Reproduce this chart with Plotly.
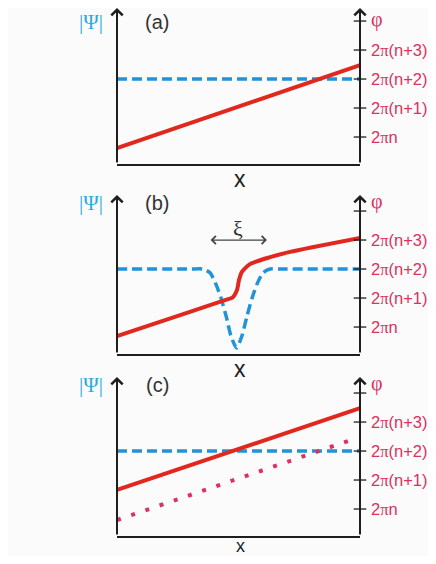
import plotly.graph_objects as go

# x runs from 0 (left axis) to 1 (right axis); phase in units of 2*pi above 2*pi*n
x_line = [0, 1]

# (a) uniform phase gradient
a_phase = [-0.38, 2.48]
a_psi = [2, 2]

# (b) phase slip: amplitude dip and phase jump
b_phase_x = [0, 0.30, 0.444, 0.477, 0.494, 0.502, 0.514, 0.547, 0.630, 0.712, 1.0]
b_phase_y = [-0.31, 0.52, 0.93, 1.03, 1.28, 1.62, 1.90, 2.17, 2.41, 2.59, 3.07]
b_psi_x = [0, 0.30, 0.354, 0.383, 0.407, 0.428, 0.449, 0.469, 0.492,
           0.514, 0.535, 0.556, 0.576, 0.601, 0.630, 0.68, 1.0]
b_psi_y = [2.0, 2.0, 2.0, 1.87, 1.48, 1.0, 0.38, -0.31, -0.72,
           -0.31, 0.38, 1.0, 1.48, 1.87, 2.0, 2.0, 2.0]

# (c) after the slip, with the old phase dotted
c_phase = [0.66, 3.48]
c_old_x = [0, 0.96]
c_old_y = [-0.38, 2.37]
c_psi = [2, 2]

tick_vals = [0, 1, 2, 3]
tick_text = ['2<span style="font-family:Liberation Serif">π</span>n',
             '2<span style="font-family:Liberation Serif">π</span>(n+1)',
             '2<span style="font-family:Liberation Serif">π</span>(n+2)',
             '2<span style="font-family:Liberation Serif">π</span>(n+3)']
tick_marks = [0, 1, 2, 3, 4]
panel_labels = ['(a)', '(b)', '(c)']

RED = '#e0281f'
BLUE = '#2193d8'
PINK = '#d9325e'
CYAN = '#2aa9e0'
AXIS = '#1e1e1e'
YLO = -0.93
UNIT = 29.0  # pixels per 2*pi step

OFF = 8  # page body margin
W, H = 436 - 2 * OFF, 564 - 2 * OFF
# pixel positions (in the final picture) of each panel: (top arrow tip, bottom axis)
panels = [(8, 164), (195, 354), (377, 536)]
# vertical centre of the "x" label under each panel and of the header labels
x_label_y = [179, 369, 546]
x_label_size = [23, 23, 18]
head_y = [22, 203, 385]


def px_x(p):
    return (p - OFF) / W


def px_y(p):
    return max(0, min(1, 1 - (p - OFF) / H))


x_dom = [px_x(117), px_x(360)]

fig = go.Figure()


def label(x, y, text, font):
    fig.add_annotation(x=px_x(x), y=px_y(y), xref='paper', yref='paper', text=text,
                       showarrow=False, xanchor='center', yanchor='middle', font=font)


def add_panel(i, traces):
    sfx = '' if i == 0 else str(i + 1)
    xr, yr = 'x' + sfx, 'y' + sfx
    top, bot = panels[i]
    yhi = YLO + (bot - top) / UNIT
    for t in traces:
        t.update(xaxis=xr, yaxis=yr, showlegend=False, hoverinfo='skip')
        fig.add_trace(t)
    # tick marks crossing the right axis
    fig.add_trace(go.Scatter(x=[1] * len(tick_marks), y=tick_marks, mode='markers',
                             marker=dict(symbol='line-ew', size=9, line=dict(width=1.3, color=AXIS)),
                             xaxis=xr, yaxis=yr, showlegend=False,
                             cliponaxis=False, hoverinfo='skip'))
    fig.layout['xaxis' + sfx] = dict(domain=x_dom, range=[0, 1], showgrid=False, zeroline=False,
                                      showticklabels=False, showline=True, linecolor=AXIS,
                                      linewidth=2, anchor=yr, automargin=False)
    fig.layout['yaxis' + sfx] = dict(domain=[px_y(bot), px_y(top)], range=[YLO, yhi],
                                      showgrid=False, zeroline=False, side='right',
                                      anchor=xr, tickvals=tick_vals, ticktext=tick_text,
                                      ticks='', ticklabelstandoff=10, automargin=False,
                                      tickfont=dict(family='Liberation Sans, Arial', size=16.5, color=PINK))
    for xv in (0, 1):
        fig.add_annotation(x=xv, y=yhi, ax=xv, ay=YLO, xref=xr, yref=yr, axref=xr, ayref=yr,
                           text='', showarrow=True, arrowhead=4, arrowsize=1.1,
                           arrowwidth=2, arrowcolor=AXIS)
    hy = head_y[i]
    label(91, hy, '|Ψ|', dict(family='Liberation Serif', size=21, color=CYAN))
    label(157, hy, panel_labels[i], dict(family='Liberation Sans, Arial', size=20, color='#333'))
    label(377, hy - 2, 'φ', dict(family='Liberation Serif', size=20, color=PINK))
    label(240, x_label_y[i], 'x', dict(family='Liberation Sans, Arial', size=x_label_size[i], color=AXIS))


add_panel(0, [
    go.Scatter(x=x_line, y=a_psi, mode='lines', line=dict(color=BLUE, width=3.5, dash='10px,5px')),
    go.Scatter(x=x_line, y=a_phase, mode='lines', line=dict(color=RED, width=4)),
])
add_panel(1, [
    go.Scatter(x=b_psi_x, y=b_psi_y, mode='lines',
               line=dict(color=BLUE, width=3.5, dash='10px,5px', shape='spline', smoothing=0.6)),
    go.Scatter(x=b_phase_x, y=b_phase_y, mode='lines',
               line=dict(color=RED, width=4, shape='spline', smoothing=0.6)),
])
add_panel(2, [
    go.Scatter(x=x_line, y=c_psi, mode='lines', line=dict(color=BLUE, width=3.5, dash='10px,5px')),
    go.Scatter(x=x_line, y=c_phase, mode='lines', line=dict(color=RED, width=4)),
    go.Scatter(x=c_old_x, y=c_old_y, mode='lines', line=dict(color=PINK, width=4, dash='4px,11px')),
])

# coherence length arrow in (b)
fig.add_annotation(x=0.617, y=3.0, ax=0.379, ay=3.0, xref='x2', yref='y2', axref='x2', ayref='y2',
                   text='', showarrow=True, arrowhead=4, arrowside='end+start', arrowsize=1.3,
                   arrowwidth=1.2, arrowcolor='#444')
fig.add_annotation(x=0.498, y=3.4, xref='x2', yref='y2', text='ξ', showarrow=False,
                   font=dict(family='Liberation Serif', size=22, color='#333'))

fig.update_layout(width=W, height=H, margin=dict(l=0, r=0, t=0, b=0, autoexpand=False),
                  paper_bgcolor='#fbfbfb', plot_bgcolor='#fbfbfb')

fig.write_html("out.html")
